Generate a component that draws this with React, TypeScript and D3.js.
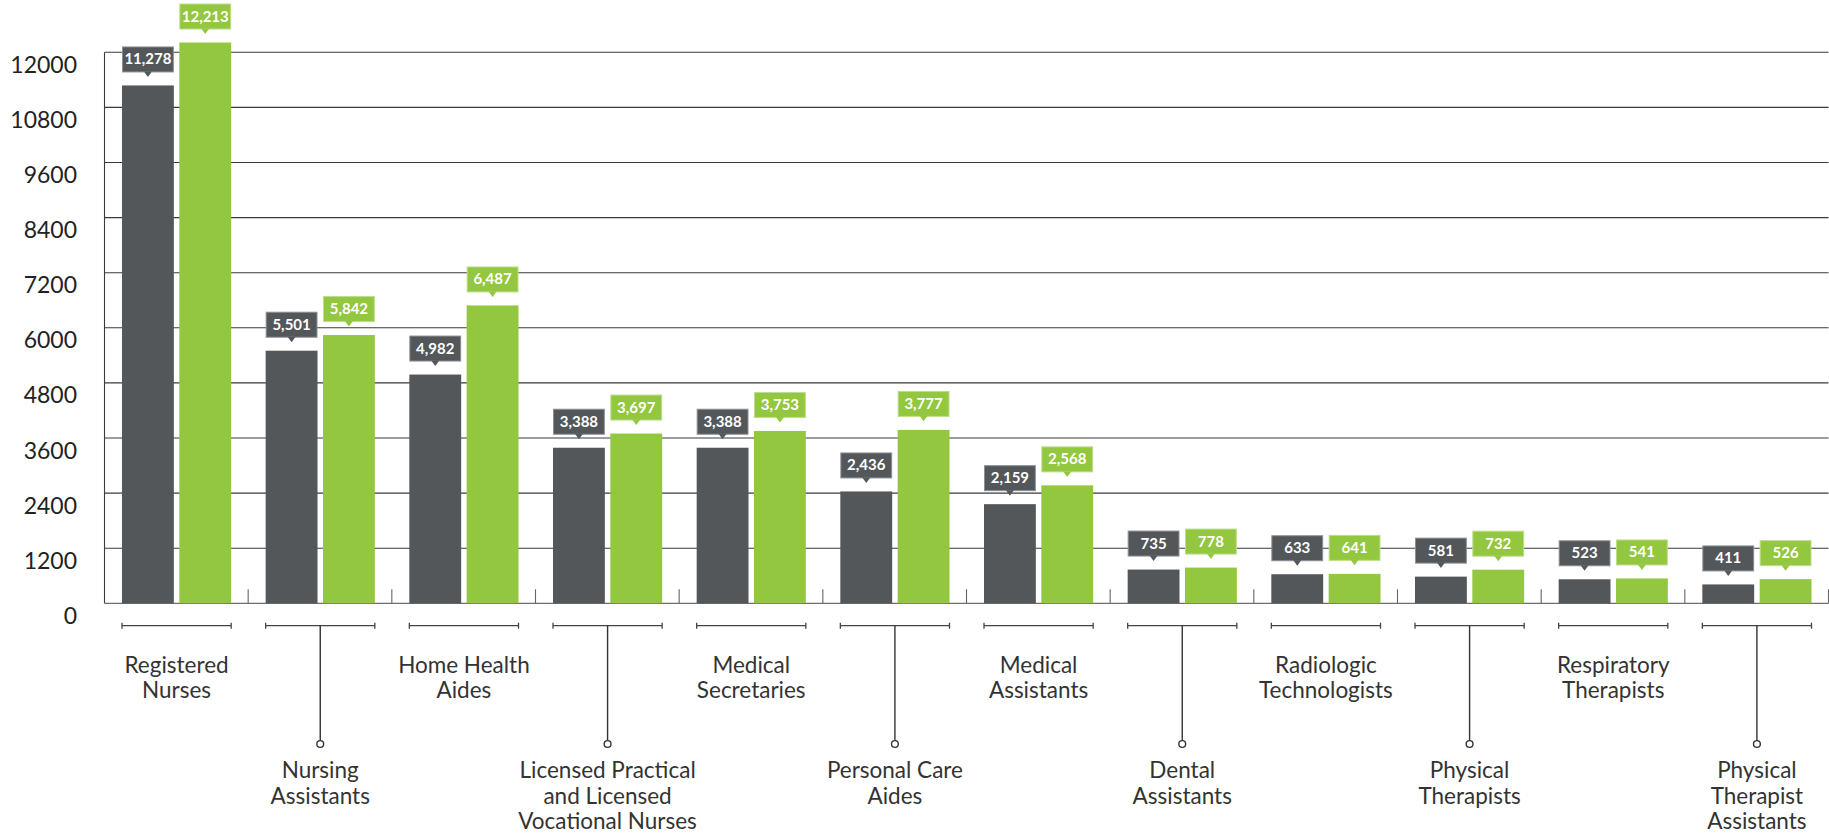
import React from "react";
import * as d3 from "d3";

const categories: string[][] = [
  ["Registered", "Nurses"],
  ["Nursing", "Assistants"],
  ["Home Health", "Aides"],
  ["Licensed Practical", "and Licensed", "Vocational Nurses"],
  ["Medical", "Secretaries"],
  ["Personal Care", "Aides"],
  ["Medical", "Assistants"],
  ["Dental", "Assistants"],
  ["Radiologic", "Technologists"],
  ["Physical", "Therapists"],
  ["Respiratory", "Therapists"],
  ["Physical", "Therapist", "Assistants"],
];
const seriesA: number[] = [11278, 5501, 4982, 3388, 3388, 2436, 2159, 735, 633, 581, 523, 411];
const seriesB: number[] = [12213, 5842, 6487, 3697, 3753, 3777, 2568, 778, 641, 732, 541, 526];
const yTicks: number[] = [0, 1200, 2400, 3600, 4800, 6000, 7200, 8400, 9600, 10800, 12000];

const W = 1829;
const H = 835;
const X0 = 104.5;
const X1 = 1828.5;
const Y0 = 603.3;
const YTOP = 52.3;

const DARK = "#53575a";
const GREEN = "#93c73f";
const FONT = "Lato, 'Open Sans', sans-serif";

export default function App() {
  const idx = categories.map((_, i) => i);
  const x0 = d3.scaleBand<number>().domain(idx).range([X0, X1]).padding(0);
  const step = x0.bandwidth();
  const x1 = d3
    .scaleBand<number>()
    .domain([0, 1])
    .range([17.5, step - 17])
    .paddingInner(0.0957)
    .paddingOuter(0);
  const bw = x1.bandwidth();
  const y = d3.scaleLinear().domain([0, 12000]).range([Y0, YTOP]);
  const fmt = d3.format(",");
  const series = [
    { vals: seriesA, color: DARK, stroke: "#8d9093" },
    { vals: seriesB, color: GREEN, stroke: "#bfdd8a" },
  ];

  return (
    <svg
      width={W}
      height={H}
      style={{ position: "absolute", left: 0, top: 0, background: "#fff" }}
      fontFamily={FONT}
    >
      {yTicks.slice(1).map((t) => (
        <line key={"g" + t} x1={X0} x2={X1} y1={y(t)} y2={y(t)} stroke="#3a3a3a" strokeWidth={1.1} />
      ))}
      <line x1={X0} x2={X1} y1={Y0} y2={Y0} stroke="#6e6e6e" strokeWidth={1.3} />
      <line x1={X0} x2={X0} y1={YTOP} y2={Y0} stroke="#3a3a3a" strokeWidth={1.1} />
      {yTicks.map((t) => (
        <text key={"t" + t} x={77} y={y(t) + 20.5} textAnchor="end" fontSize={23} fill="#222">
          {t}
        </text>
      ))}
      {idx.slice(1).concat([categories.length]).map((i) => {
        const xx = X0 + i * step;
        return <line key={"s" + i} x1={xx} x2={xx} y1={Y0} y2={Y0 - 14} stroke="#666" strokeWidth={1.1} />;
      })}
      {idx.map((i) => (
        <g key={"b" + i} transform={`translate(${x0(i)},0)`}>
          {series.map((s, k) => {
            const v = s.vals[i];
            const bx = x1(k)!;
            const top = y(v);
            const boxBottom = top - 13.5;
            const boxTop = boxBottom - 25;
            const cx = bx + bw / 2;
            return (
              <g key={k}>
                <rect x={bx} y={top} width={bw} height={Y0 - top} fill={s.color} />
                <rect
                  x={bx + 0.5}
                  y={boxTop}
                  width={bw - 1}
                  height={25}
                  fill={s.color}
                  stroke={s.stroke}
                  strokeWidth={1}
                />
                <path
                  d={`M${cx - 4},${boxBottom - 0.5}L${cx + 4},${boxBottom - 0.5}L${cx},${boxBottom + 5}Z`}
                  fill={s.color}
                />
                <text
                  x={cx}
                  y={boxBottom - 7.5}
                  textAnchor="middle"
                  fontSize={15}
                  fontWeight={700}
                  fill="#fff"
                >
                  {fmt(v)}
                </text>
              </g>
            );
          })}
        </g>
      ))}
      {idx.map((i) => {
        const left = x0(i)! + x1(0)!;
        const right = x0(i)! + x1(1)! + bw;
        const cx = (left + right) / 2;
        const by = 625.7;
        const odd = i % 2 === 1;
        const lines = categories[i];
        const firstBase = odd ? 778.3 : 672.7;
        return (
          <g key={"c" + i} stroke="#444" strokeWidth={1.3}>
            <line x1={left} x2={right} y1={by} y2={by} />
            <line x1={left} x2={left} y1={by - 3} y2={by + 3} />
            <line x1={right} x2={right} y1={by - 3} y2={by + 3} />
            {odd && (
              <>
                <line x1={cx} x2={cx} y1={by} y2={740.6} stroke="#333" strokeWidth={1.4} />
                <circle cx={cx} cy={744} r={3.4} fill="#fff" stroke="#333" strokeWidth={1.4} />
              </>
            )}
            <text textAnchor="middle" fontSize={22.5} fill="#333" stroke="none">
              {lines.map((ln, j) => (
                <tspan key={j} x={cx} y={firstBase + j * 25.3}>
                  {ln}
                </tspan>
              ))}
            </text>
          </g>
        );
      })}
    </svg>
  );
}
